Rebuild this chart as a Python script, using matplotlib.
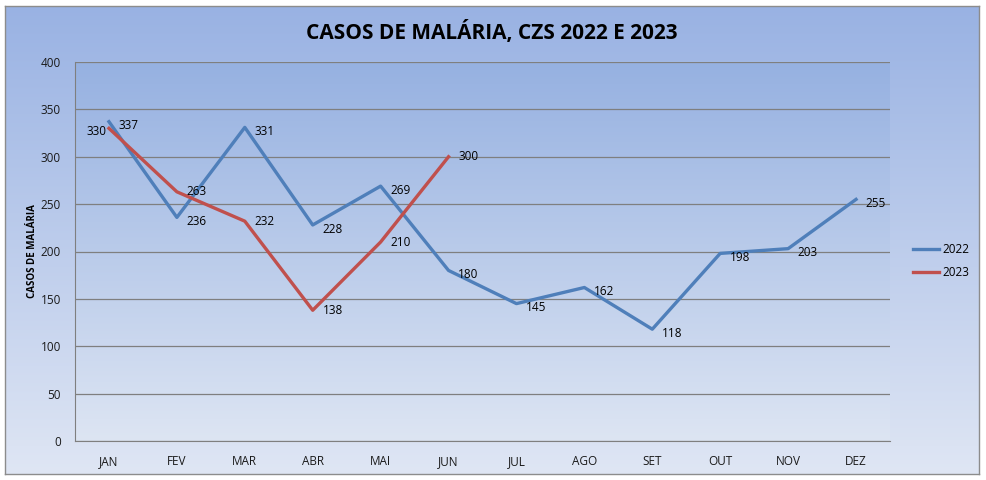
import numpy as np
import matplotlib.pyplot as plt
from matplotlib.colors import LinearSegmentedColormap

# dados
meses = ['JAN', 'FEV', 'MAR', 'ABR', 'MAI', 'JUN', 'JUL', 'AGO', 'SET', 'OUT', 'NOV', 'DEZ']
casos_2022 = [337, 236, 331, 228, 269, 180, 145, 162, 118, 198, 203, 255]
casos_2023 = [330, 263, 232, 138, 210, 300]
# lado do rótulo (1 = direita, -1 = esquerda)
lado_2023 = [-1, 1, 1, 1, 1, 1]

plt.rcParams['font.family'] = ['Open Sans', 'DejaVu Sans']

fig = plt.figure(figsize=(9.86, 4.8), dpi=100)
fig.patch.set_facecolor('white')

grad = np.linspace(0, 1, 256).reshape(-1, 1)
cmap_fundo = LinearSegmentedColormap.from_list('fundo', ['#99b2e3', '#dfe6f4'])

# fundo do gráfico (área externa)
bg = fig.add_axes([5 / 986, 1 - 474 / 480, 974 / 986, 468 / 480])
bg.imshow(grad, aspect='auto', cmap=cmap_fundo, extent=[0, 1, 0, 1])
bg.set_xticks([])
bg.set_yticks([])
for s in bg.spines.values():
    s.set_color('#8c8c8c')
    s.set_linewidth(1)

ax = fig.add_axes([75 / 986, 1 - 441 / 480, 815 / 986, 379 / 480])
ax.patch.set_alpha(0)
x = np.arange(len(meses))
ax.set_xlim(-0.5, len(meses) - 0.5)
ax.set_ylim(0, 400)
ax.imshow(grad, aspect='auto', cmap=LinearSegmentedColormap.from_list('pa', ['#96b1e1', '#dde5f3']),
          extent=[-0.5, len(meses) - 0.5, 0, 400], zorder=0)

ax.set_yticks(range(0, 401, 50))
ax.grid(axis='y', color='#7f7f7f', linewidth=0.9, zorder=1)
ax.set_xticks(x)
ax.set_xticklabels(meses)
ax.tick_params(axis='both', length=0, labelsize=8.5, colors='#1a1a1a')
ax.tick_params(axis='x', pad=10)
ax.tick_params(axis='y', pad=10)
for nome in ['top', 'right']:
    ax.spines[nome].set_visible(False)
ax.spines['left'].set_color('#7f7f7f')
ax.spines['bottom'].set_color('#7f7f7f')

l1, = ax.plot(x, casos_2022, color='#4f7fba', linewidth=2.4, label='2022', zorder=3)
l2, = ax.plot(x[:len(casos_2023)], casos_2023, color='#c0504d', linewidth=2.4, label='2023', zorder=4)

for i, v in enumerate(casos_2022):
    ax.annotate(str(v), (x[i], v), xytext=(7, -3), textcoords='offset points',
                ha='left', va='center', fontsize=8.5, color='black', zorder=5)
for i, v in enumerate(casos_2023):
    if lado_2023[i] < 0:
        ax.annotate(str(v), (x[i], v), xytext=(-2, -2), textcoords='offset points',
                    ha='right', va='center', fontsize=8.5, color='black', zorder=5)
    else:
        ax.annotate(str(v), (x[i], v), xytext=(7, 0), textcoords='offset points',
                    ha='left', va='center', fontsize=8.5, color='black', zorder=5)

ax.set_ylabel('CASOS DE MALÁRIA', fontsize=7, fontweight='bold')
ax.yaxis.set_label_coords(-37 / 815, 0.5)

fig.text(492 / 986, 1 - 32 / 480, 'CASOS DE MALÁRIA, CZS 2022 E 2023', ha='center', va='center',
         fontsize=15, fontweight='bold', color='black')

fig.legend(handles=[l1, l2], loc='center left', bbox_to_anchor=(902 / 986, 1 - 261 / 480),
           frameon=False, fontsize=8.5, handlelength=2.2, handletextpad=0.3, labelspacing=0.9)

fig.savefig('out.png', dpi=100)
